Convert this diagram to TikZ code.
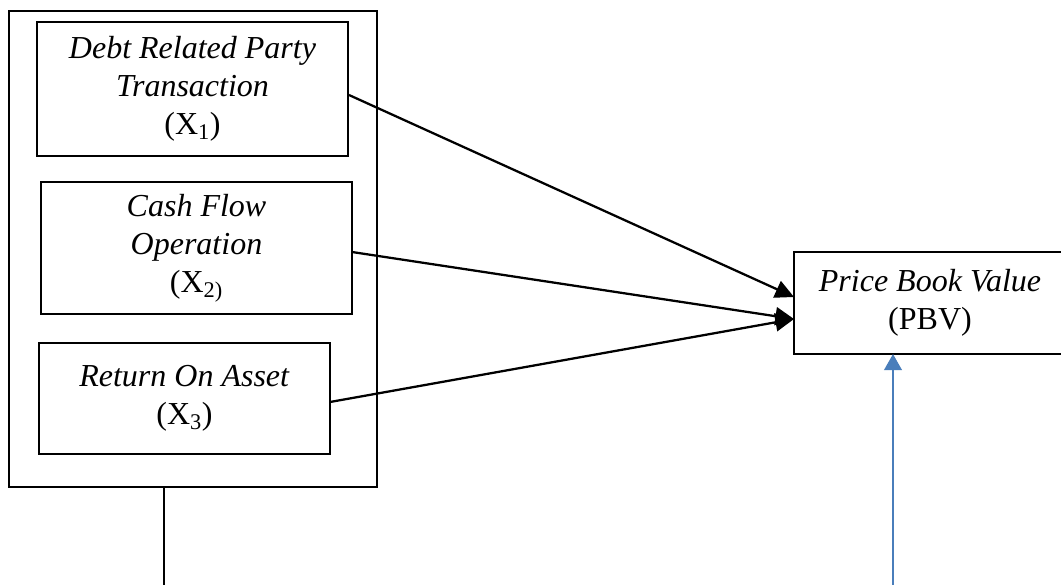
\documentclass[tikz,border=0pt]{standalone}
\usepackage{fontspec}
\setmainfont{Liberation Serif}
\usetikzlibrary{arrows.meta,calc}
\definecolor{wordblue}{HTML}{4A7EBB}
\tikzset{
  varbox/.style={draw, line width=1.3pt, rectangle, inner sep=0pt, outer sep=0pt, align=center,
    font=\fontsize{24}{28.5}\selectfont},
  blackarrow/.style={line width=1.7pt, -{Triangle[length=14pt,width=13.5pt]}},
  blueline/.style={draw=wordblue, line width=2pt, -{Triangle[length=12pt,width=13pt]}},
  plainline/.style={line width=1.6pt}
}
\begin{document}
\begin{tikzpicture}[x=0.75pt,y=-0.75pt]
\useasboundingbox (0,0) rectangle (1061,585);
\node[varbox, minimum width=368*0.75pt, minimum height=476*0.75pt] (outer) at (193,249) {};
\node[varbox, minimum width=311*0.75pt, minimum height=134*0.75pt] (b1) at (192.5,89)
  {\textit{Debt Related Party}\\ \textit{Transaction}\\ (X\textsubscript{1})};
\node[varbox, minimum width=311*0.75pt, minimum height=132*0.75pt] (b2) at (196.5,248)
  {\textit{Cash Flow}\\ \textit{Operation}\\ (X\textsubscript{2)}};
\node[varbox, minimum width=291*0.75pt, minimum height=111*0.75pt] (b3) at (184.5,398.5)
  {\textit{Return On Asset}\\ (X\textsubscript{3})};
\node[varbox, minimum width=272*0.75pt, minimum height=102*0.75pt] (pbv) at (930,303)
  {\textit{Price Book Value}\\ (PBV)};
\coordinate (bl) at (164,585);
\coordinate (bb) at (893,585);
\draw[blackarrow] ($(b1.east)+(1,6)$) -- ($(pbv.west)+(0,-6)$);
\draw[blackarrow] ($(b2.east)+(0,4)$) -- ($(pbv.west)+(0,16)$);
\draw[blackarrow] ($(b3.east)+(0,3.5)$) -- ($(pbv.west)+(0,16)$);
\draw[plainline] ($(outer.south west)+(155,0)$) -- (bl);
\draw[blueline] (bb) -- ($(pbv.south west)+(99,0)$);
\end{tikzpicture}
\end{document}
